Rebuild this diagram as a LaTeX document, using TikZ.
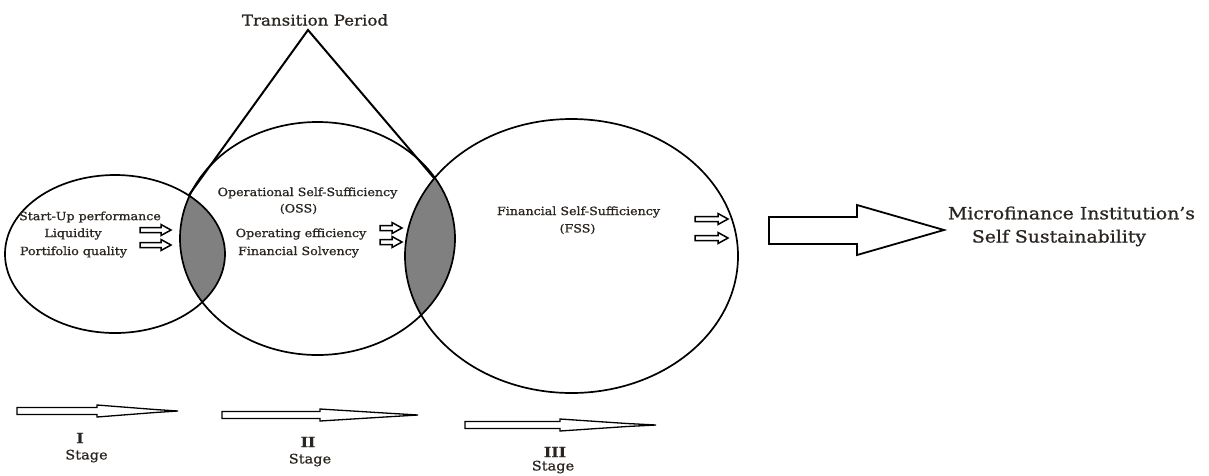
\documentclass[tikz,border=0pt]{standalone}
\usepackage{fontspec}
\setmainfont[FakeStretch=1.12,FakeBold=1]{DejaVu Serif}
\definecolor{txt}{HTML}{2A2520}
\definecolor{lens}{HTML}{808080}
\begin{document}
\begin{tikzpicture}[x=1pt,y=-1pt,
  ring/.style={draw=black,line width=1.7pt},
  tri/.style={draw=black,line width=2pt},
  lbl/.style={text=txt,font=\fontsize{11.3}{13}\selectfont,inner sep=0pt},
  stg/.style={text=txt,font=\fontsize{13}{15}\selectfont,inner sep=0pt},
  biglbl/.style={text=txt,font=\fontsize{16.8}{19}\selectfont,inner sep=0pt},
  tplbl/.style={text=txt,font=\fontsize{14.9}{17}\selectfont,inner sep=0pt},
  numlbl/.style={text=txt,font=\bfseries\fontsize{14}{16}\selectfont,inner sep=0pt},
  hollow/.style={draw=black,line width=1.5pt,fill=white,line join=miter},
  pics/smallarrow/.style={code={
    \draw[hollow] (0,-2.5) -- (#1-10,-2.5) -- (#1-10,-5.5) -- (#1,0) -- (#1-10,5.5) -- (#1-10,2.5) -- (0,2.5) -- cycle;}},
  pics/stagearrow/.style n args={3}{code={
    \draw[hollow,line width=1.3pt] (0,-3.5) -- (#1,-3.5) -- (#1,-6) -- (#2,-1.5) -- (#3,0) -- (#2,1.5) -- (#1,6) -- (#1,3.5) -- (0,3.5) -- cycle;}}
]
\useasboundingbox (0,0) rectangle (1209,475);
% centres
\coordinate (c1) at (115,254);
\coordinate (c2) at (317.5,238.5);
\coordinate (c3) at (571.5,256);
% lenses
\begin{scope}
  \clip (c1) ellipse [x radius=110, y radius=79];
  \fill[lens] (c2) ellipse [x radius=137.5, y radius=116.5];
\end{scope}
\begin{scope}
  \clip (c2) ellipse [x radius=137.5, y radius=116.5];
  \fill[lens] (c3) ellipse [x radius=166.5, y radius=137];
\end{scope}
\draw[ring] (c1) ellipse [x radius=110, y radius=79];
\draw[ring] (c2) ellipse [x radius=137.5, y radius=116.5];
\draw[ring] (c3) ellipse [x radius=166.5, y radius=137];
% transition triangle
\coordinate (apex) at (308,30);
\coordinate (lt) at (189,195);
\coordinate (rt) at (434,178);
\draw[tri] (lt) -- (apex) -- (rt);
\node[tplbl] (tp) at (315,20) {Transition Period};
% texts stage I
\node[lbl] (su) at (90,217) {Start-Up performance};
\node[lbl] (liq) at (73,234) {Liquidity};
\node[lbl] (pq) at (73.5,252) {Portifolio quality};
% stage II
\node[lbl] (oss) at (307.5,193) {Operational Self-Sufficiency};
\node[lbl] (ossa) at (298.5,209) {(OSS)};
\node[lbl] (oe) at (301,234) {Operating efficiency};
\node[lbl] (fs) at (298.5,252) {Financial Solvency};
% stage III
\node[lbl] (fss) at (578.5,212) {Financial Self-Sufficiency};
\node[lbl] (fssa) at (577.5,229) {(FSS)};
% small arrows
\pic at (140,230) {smallarrow=31};
\pic at (140,245) {smallarrow=31};
\pic at (380,228) {smallarrow=22};
\pic at (380,242) {smallarrow=22};
\pic at (695,219) {smallarrow=33};
\pic at (695,238) {smallarrow=33};
% big arrow
\draw[hollow,line width=1.8pt] (769,217) -- (857,217) -- (857,205) -- (944,230) -- (857,255) -- (857,244) -- (769,244) -- cycle;
\node[biglbl] (mfi) at (1071.5,213) {Microfinance Institution's};
\node[biglbl] (ss) at (1059,238) {Self Sustainability};
% stage arrows
\pic at (17,411) {stagearrow={80}{138}{161}};
\pic at (222,415) {stagearrow={98}{171}{196}};
\pic at (465,425) {stagearrow={95}{162}{191}};
\node[numlbl] (s1) at (80,438) {I};
\node[stg] (s1t) at (86.5,456) {Stage};
\node[numlbl] (s2) at (308,442) {II};
\node[stg] (s2t) at (310,460) {Stage};
\node[numlbl] (s3) at (555,452) {III};
\node[stg] (s3t) at (553,467) {Stage};
\end{tikzpicture}
\end{document}
